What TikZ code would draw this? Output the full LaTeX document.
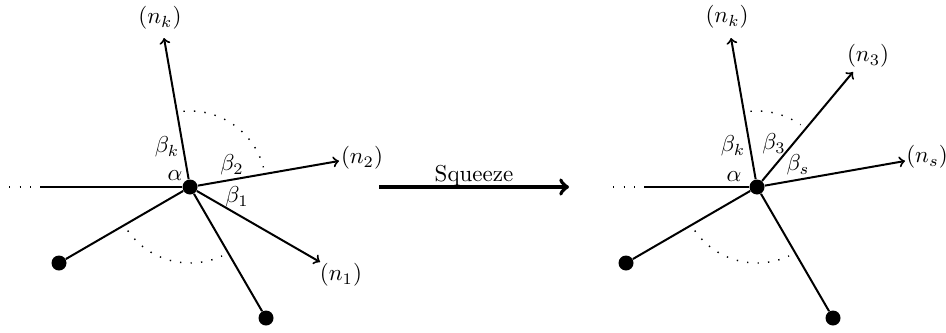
\documentclass[tikz,border=0pt]{standalone}
\tikzset{
  lbl/.style={inner sep=0pt,scale=1.15},
  hub/.style={circle,fill=black,inner sep=0pt,minimum size=7.5pt},
  pt/.style={coordinate},
  edge/.style={line width=1pt},
  ray/.style={line width=1pt,-to},
  dots/.style={line width=0.7pt,dash pattern=on 0.7pt off 4.55pt},
  squeeze/.style={line width=2pt,-to}
}
\begin{document}
\begin{tikzpicture}[x=0.5pt,y=-0.5pt]
\useasboundingbox (0,0) rectangle (946,332);
% left figure
\node[pt] (Lk) at (164,38) {};
\node[pt] (L2) at (339,161) {};
\node[pt] (L1) at (320,262) {};
\node[pt] (Lw) at (40,187) {};
\node[pt] (Lw2) at (9,187) {};
\node[hub] (Lc) at (190,187) {};
\node[hub] (La) at (59,263) {};
\node[hub] (Lb) at (266,318) {};
\draw[edge] (Lw) -- (Lc);
\draw[edge] (Lc) -- (La);
\draw[edge] (Lc) -- (Lb);
\draw[ray] (Lc) -- (Lk);
\draw[ray] (Lc) -- (L2);
\draw[ray] (Lc) -- (L1);
\draw[dots] (Lw2) -- (Lw);
\draw[dots] (183.4,111.3) arc[start angle=-95,end angle=-15,radius=76];
\draw[dots] (127.7,230.6) arc[start angle=145,end angle=65,radius=76];
\node[lbl] (Lnk) at (160,18) {$(n_k)$};
\node[lbl] (Ln2) at (362,158) {$(n_2)$};
\node[lbl] (Ln1) at (341,275) {$(n_1)$};
\node[lbl] (Lbk) at (167,147) {$\beta_k$};
\node[lbl] (Lb2) at (232,165) {$\beta_2$};
\node[lbl] (Lal) at (175,176) {$\alpha$};
\node[lbl] (Lb1) at (237,197) {$\beta_1$};
% middle arrow
\node[pt] (As) at (379,187) {};
\node[pt] (Ae) at (569,187) {};
\draw[squeeze] (As) -- (Ae);
\node[lbl] (Sq) at (474,176) {Squeeze};
% right figure
\node[pt] (Rk) at (731,38) {};
\node[pt] (R3) at (853,72) {};
\node[pt] (Rs) at (905,161) {};
\node[pt] (Rw) at (644,187) {};
\node[pt] (Rw2) at (613,187) {};
\node[hub] (Rc) at (757,187) {};
\node[hub] (Ra) at (626,263) {};
\node[hub] (Rb) at (833,318) {};
\draw[edge] (Rw) -- (Rc);
\draw[edge] (Rc) -- (Ra);
\draw[edge] (Rc) -- (Rb);
\draw[ray] (Rc) -- (Rk);
\draw[ray] (Rc) -- (R3);
\draw[ray] (Rc) -- (Rs);
\draw[dots] (Rw2) -- (Rw);
\draw[dots] (750.4,111.3) arc[start angle=-95,end angle=-55,radius=76];
\draw[dots] (694.7,230.6) arc[start angle=145,end angle=65,radius=76];
\node[lbl] (Rnk) at (727,17) {$(n_k)$};
\node[lbl] (Rn3) at (868,56) {$(n_3)$};
\node[lbl] (Rns) at (927,157) {$(n_s)$};
\node[lbl] (Rbk) at (733,146) {$\beta_k$};
\node[lbl] (Rb3) at (774,144) {$\beta_3$};
\node[lbl] (Rbs) at (798,165) {$\beta_s$};
\node[lbl] (Ral) at (734,177) {$\alpha$};
\end{tikzpicture}
\end{document}
